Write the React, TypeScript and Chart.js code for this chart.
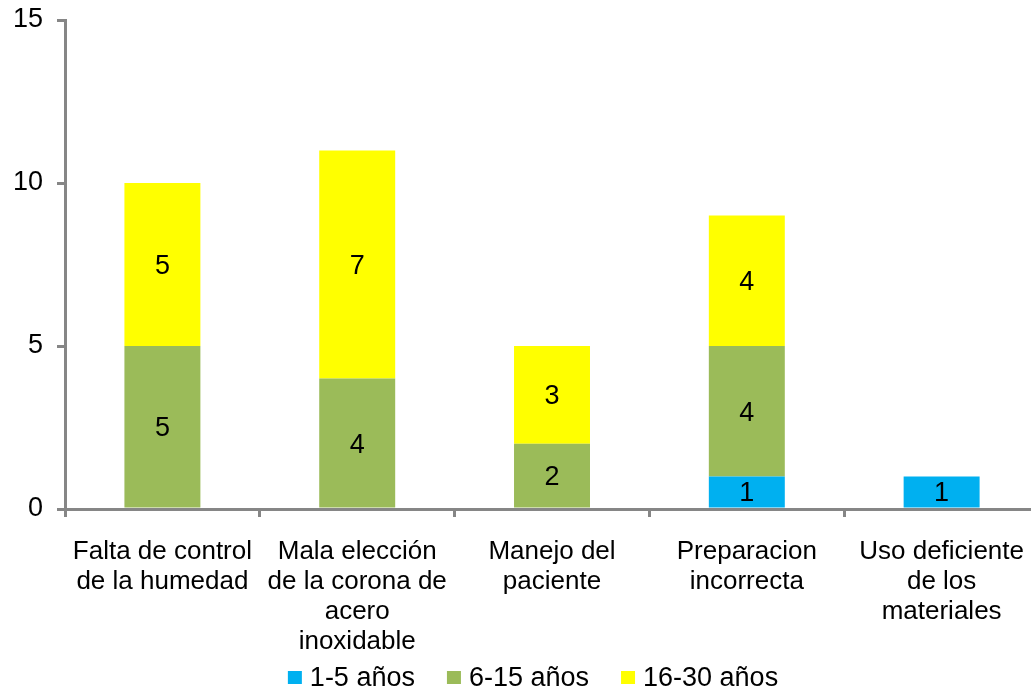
import React, { useEffect, useRef } from "react";
import { Chart, registerables } from "chart.js";

Chart.register(...registerables);

const categories: string[][] = [
  ["Falta de control", "de la humedad"],
  ["Mala elección", "de la corona de", "acero", "inoxidable"],
  ["Manejo del", "paciente"],
  ["Preparacion", "incorrecta"],
  ["Uso deficiente", "de los", "materiales"],
];
const seriesNames = ["1-5 años", "6-15 años", "16-30 años"];
const seriesColors = ["#00B0F0", "#9BBB59", "#FFFF00"];
const años1a5 = [null, null, null, 1, 1];
const años6a15 = [5, 4, 2, 4, null];
const años16a30 = [5, 7, 3, 4, null];
const yTicks = [0, 5, 10, 15];

const FONT = "'Liberation Sans', Arial, sans-serif";
const AXIS = "#868686";

const dataLabelPlugin = {
  id: "dataLabels",
  afterDatasetsDraw(chart: any) {
    const ctx = chart.ctx;
    ctx.save();
    ctx.font = `27px ${FONT}`;
    ctx.fillStyle = "#000";
    ctx.textAlign = "center";
    ctx.textBaseline = "middle";
    chart.data.datasets.forEach((ds: any, i: number) => {
      const meta = chart.getDatasetMeta(i);
      meta.data.forEach((bar: any, j: number) => {
        const v = ds.data[j];
        if (v === null || v === undefined) return;
        const { x, y, base } = bar.getProps(["x", "y", "base"], true);
        ctx.fillText(String(v), x, (y + base) / 2 + 2);
      });
    });
    ctx.restore();
  },
};

const legendPlugin = {
  id: "customLegend",
  afterDraw(chart: any) {
    const ctx = chart.ctx;
    ctx.save();
    ctx.font = `27px ${FONT}`;
    ctx.textBaseline = "middle";
    ctx.textAlign = "left";
    const box = 14;
    const gapBoxText = 8;
    const gapItem = 32;
    const widths = seriesNames.map((n) => ctx.measureText(n).width);
    const total =
      widths.reduce((a: number, w: number) => a + box + gapBoxText + w, 0) +
      gapItem * (seriesNames.length - 1);
    let x = 533 - total / 2;
    const cy = 678;
    seriesNames.forEach((n, i) => {
      ctx.fillStyle = seriesColors[i];
      ctx.fillRect(x, cy - 7, box, 13);
      x += box + gapBoxText;
      ctx.fillStyle = "#000";
      ctx.fillText(n, x, cy + 1);
      x += widths[i] + gapItem;
    });
    ctx.restore();
  },
};

export default function App() {
  const ref = useRef<HTMLCanvasElement | null>(null);
  useEffect(() => {
    if (!ref.current) return;
    const chart = new Chart(ref.current, {
      type: "bar",
      data: {
        labels: categories as any,
        datasets: [
          { label: seriesNames[0], data: años1a5 as any, backgroundColor: seriesColors[0] },
          { label: seriesNames[1], data: años6a15 as any, backgroundColor: seriesColors[1] },
          { label: seriesNames[2], data: años16a30 as any, backgroundColor: seriesColors[2] },
        ],
      },
      options: {
        responsive: false,
        animation: false,
        layout: { padding: { top: 20, right: 0, left: 0, bottom: 34 } },
        datasets: { bar: { categoryPercentage: 1, barPercentage: 0.39 } },
        plugins: { legend: { display: false }, tooltip: { enabled: false } },
        scales: {
          x: {
            stacked: true,
            grid: {
              drawOnChartArea: false,
              drawTicks: true,
              tickLength: 8,
              color: AXIS,
              lineWidth: 3,
            },
            border: { color: AXIS, width: 3 },
            ticks: {
              color: "#000",
              padding: 20,
              maxRotation: 0,
              autoSkip: false,
              font: { family: FONT, size: 26, lineHeight: 1.15 },
            },
            afterFit: (s: any) => {
              s.height = 148;
            },
          },
          y: {
            stacked: true,
            min: 0,
            max: 15,
            afterBuildTicks: (s: any) => {
              s.ticks = yTicks.map((v) => ({ value: v }));
            },
            grid: {
              drawOnChartArea: false,
              drawTicks: true,
              tickLength: 8,
              color: AXIS,
              lineWidth: 3,
            },
            border: { color: AXIS, width: 3 },
            ticks: {
              color: "#000",
              padding: 14,
              font: { family: FONT, size: 27 },
            },
            afterFit: (s: any) => {
              s.width = 65;
              s.paddingTop = 0;
            },
          },
        },
      },
      plugins: [dataLabelPlugin, legendPlugin],
    });
    return () => chart.destroy();
  }, []);
  return (
    <div
      style={{
        position: "absolute",
        left: 0,
        top: 0,
        width: 1031,
        height: 691,
        overflow: "hidden",
        background: "#fff",
      }}
    >
      <canvas ref={ref} width={1044} height={691} style={{ display: "block" }} />
    </div>
  );
}
